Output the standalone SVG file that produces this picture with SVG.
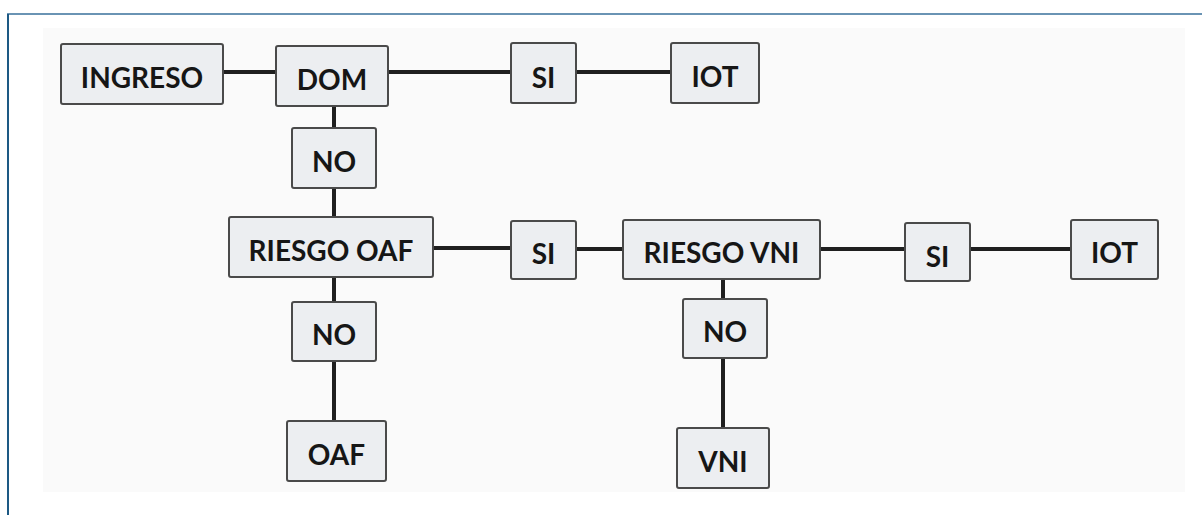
<svg xmlns="http://www.w3.org/2000/svg" width="1202" height="515" viewBox="0 0 1202 515">
<defs>
<style>
.node rect{fill:#eceef1;stroke:#4a4a4a;stroke-width:2}
.node text{font-family:Lato,"Liberation Sans",sans-serif;font-weight:700;font-size:28px;fill:#161616;text-anchor:middle;dominant-baseline:central}
.conn line{stroke:#1f1f1f;stroke-width:4;stroke-linecap:butt}
</style>
</defs>
<rect x="0" y="0" width="1202" height="515" fill="#ffffff"/>
<rect x="43" y="28" width="1142" height="464" fill="#fafafa"/>
<line x1="7" y1="14" x2="1202" y2="14" stroke="#6a94b4" stroke-width="2"/>
<line x1="8" y1="14" x2="8" y2="515" stroke="#1d5984" stroke-width="2"/>
<g id="connectors" class="conn">
<line x1="223" y1="72" x2="276" y2="72"/>
<line x1="388" y1="72" x2="511" y2="72"/>
<line x1="576" y1="72" x2="671" y2="72"/>
<line x1="334" y1="106" x2="334" y2="128"/>
<line x1="334" y1="188" x2="334" y2="217"/>
<line x1="334" y1="277" x2="334" y2="302"/>
<line x1="334" y1="361" x2="334" y2="421"/>
<line x1="433" y1="248" x2="511" y2="248"/>
<line x1="576" y1="249" x2="623" y2="249"/>
<line x1="820" y1="249" x2="905" y2="249"/>
<line x1="970" y1="249" x2="1071" y2="249"/>
<line x1="723" y1="279" x2="723" y2="299"/>
<line x1="723" y1="358" x2="723" y2="428"/>
</g>
<g id="ingreso" class="node"><rect x="61" y="44" width="162" height="60" rx="2"/><text x="142" y="77">INGRESO</text></g>
<g id="dom" class="node"><rect x="276" y="46" width="112" height="60" rx="2"/><text x="332" y="79">DOM</text></g>
<g id="si1" class="node"><rect x="511" y="43" width="65" height="60" rx="2"/><text x="543.5" y="77">SI</text></g>
<g id="iot1" class="node"><rect x="671" y="43" width="88" height="60" rx="2"/><text x="715" y="76">IOT</text></g>
<g id="no1" class="node"><rect x="292" y="128" width="84" height="60" rx="2"/><text x="334" y="161">NO</text></g>
<g id="riesgo-oaf" class="node"><rect x="229" y="217" width="204" height="60" rx="2"/><text x="331" y="250">RIESGO OAF</text></g>
<g id="si2" class="node"><rect x="511" y="221" width="65" height="58" rx="2"/><text x="543.5" y="253">SI</text></g>
<g id="riesgo-vni" class="node"><rect x="623" y="220" width="197" height="59" rx="2"/><text x="721.5" y="252">RIESGO VNI</text></g>
<g id="si3" class="node"><rect x="905" y="223" width="65" height="58" rx="2"/><text x="937.5" y="256">SI</text></g>
<g id="iot2" class="node"><rect x="1071" y="220" width="87" height="59" rx="2"/><text x="1114.5" y="252">IOT</text></g>
<g id="no2" class="node"><rect x="292" y="302" width="84" height="59" rx="2"/><text x="334" y="334">NO</text></g>
<g id="no3" class="node"><rect x="683" y="299" width="84" height="59" rx="2"/><text x="725" y="331">NO</text></g>
<g id="oaf" class="node"><rect x="287" y="421" width="99" height="60" rx="2"/><text x="336.5" y="454">OAF</text></g>
<g id="vni" class="node"><rect x="677" y="428" width="92" height="60" rx="2"/><text x="723" y="461">VNI</text></g>
</svg>
